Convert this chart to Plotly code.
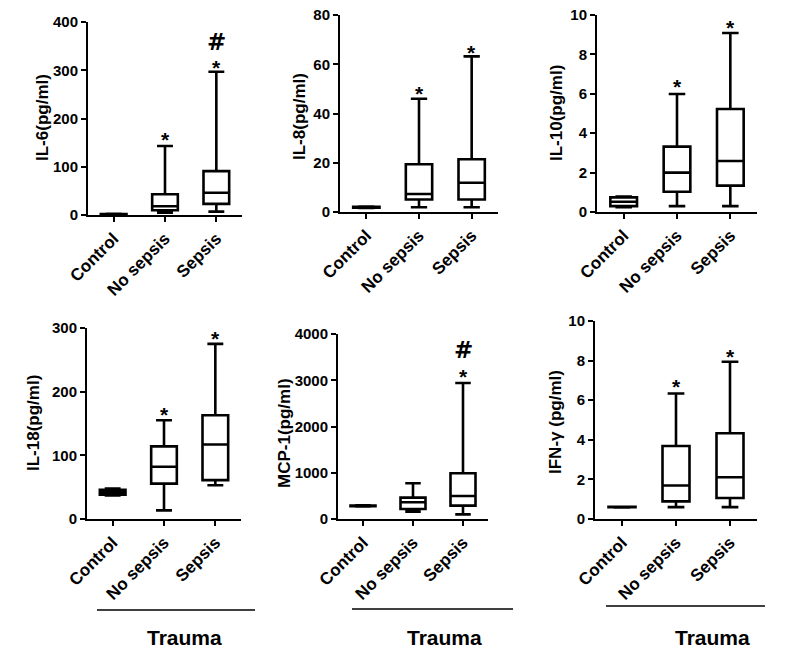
import plotly.graph_objects as go

W, H = 800, 651
CATEGORIES = ["Control", "No sepsis", "Sepsis"]

# ---- data (low whisker, Q1, median, Q3, high whisker) per group ----
IL6_LOW = [0.8, 5, 7];      IL6_Q1 = [1, 10, 23];     IL6_MED = [1.5, 18, 46];    IL6_Q3 = [2, 43, 91];      IL6_HIGH = [2.5, 143, 297]
IL8_LOW = [1.6, 1.9, 1.9];  IL8_Q1 = [1.7, 5.1, 5.1]; IL8_MED = [1.9, 7.3, 11.9]; IL8_Q3 = [2.1, 19.4, 21.4]; IL8_HIGH = [2.2, 46, 63.2]
IL10_LOW = [0.25, 0.3, 0.3]; IL10_Q1 = [0.3, 1.03, 1.34]; IL10_MED = [0.52, 2.0, 2.59]; IL10_Q3 = [0.74, 3.32, 5.23]; IL10_HIGH = [0.78, 5.99, 9.09]
IL18_LOW = [37, 13.6, 53];  IL18_Q1 = [38, 55.5, 61]; IL18_MED = [42, 82, 117];   IL18_Q3 = [46, 114, 163];  IL18_HIGH = [48, 155, 275]
MCP1_LOW = [270, 159, 101]; MCP1_Q1 = [275, 217, 289]; MCP1_MED = [282, 361, 498]; MCP1_Q3 = [290, 462, 989]; MCP1_HIGH = [295, 772, 2939]
IFNG_LOW = [0.58, 0.6, 0.6]; IFNG_Q1 = [0.59, 0.89, 1.06]; IFNG_MED = [0.6, 1.69, 2.11]; IFNG_Q3 = [0.61, 3.69, 4.33]; IFNG_HIGH = [0.62, 6.34, 7.94]

# significance markers: (panel index, group index, y value, symbol)
MARKS = [
    (0, 1, 166, "*"), (0, 2, 316, "*"), (0, 2, 358, "#"),
    (1, 1, 50, "*"), (1, 2, 67, "*"),
    (2, 1, 6.6, "*"), (2, 2, 9.6, "*"),
    (3, 1, 172, "*"), (3, 2, 292, "*"),
    (4, 2, 3190, "*"), (4, 2, 3660, "#"),
    (5, 1, 6.95, "*"), (5, 2, 8.47, "*"),
]

TITLES = ["IL-6(pg/ml)", "IL-8(pg/ml)", "IL-10(pg/ml)", "IL-18(pg/ml)", "MCP-1(pg/ml)", "IFN-γ (pg/ml)"]
YMAX = [400, 80, 10, 300, 4000, 10]
YDTICK = [100, 20, 2, 100, 1000, 2]

DATA = [
    (IL6_LOW, IL6_Q1, IL6_MED, IL6_Q3, IL6_HIGH),
    (IL8_LOW, IL8_Q1, IL8_MED, IL8_Q3, IL8_HIGH),
    (IL10_LOW, IL10_Q1, IL10_MED, IL10_Q3, IL10_HIGH),
    (IL18_LOW, IL18_Q1, IL18_MED, IL18_Q3, IL18_HIGH),
    (MCP1_LOW, MCP1_Q1, MCP1_MED, MCP1_Q3, MCP1_HIGH),
    (IFNG_LOW, IFNG_Q1, IFNG_MED, IFNG_Q3, IFNG_HIGH),
]

# ---- layout geometry (pixels) ----
PANELS = [  # x0, x1, ytop, ybottom
    (88, 242, 22, 215),
    (340, 498, 15, 212),
    (597, 757, 15, 212),
    (87, 241, 328, 519),
    (338, 488, 334, 519),
    (595, 757, 321, 519),
]
TITLE_POS = [(42, 118), (299, 117), (557, 113), (33, 423), (284, 433), (555, 422)]
TRAUMA = [  # line x0, x1, y ; text x, y
    (97, 255, 610, 184, 637),
    (352, 513, 609, 444, 637),
    (606, 765, 606, 712, 637),
]

FONT = "Arial, Liberation Sans, sans-serif"
fig = go.Figure()
layout = dict(width=W, height=H, margin=dict(l=0, r=0, t=0, b=0, autoexpand=False),
              paper_bgcolor="white", plot_bgcolor="white", showlegend=False,
              font=dict(family=FONT, color="black"))
annotations = []
shapes = []

for i, (low, q1, med, q3, high) in enumerate(DATA):
    n = i + 1
    xa = "x" if n == 1 else f"x{n}"
    ya = "y" if n == 1 else f"y{n}"
    fig.add_trace(go.Box(
        x=[0, 1, 2], lowerfence=low, q1=q1, median=med, q3=q3, upperfence=high,
        width=0.5, whiskerwidth=0.62, boxpoints=False,
        line=dict(color="black", width=2.6), fillcolor="white",
        xaxis=xa, yaxis=ya, hoverinfo="skip"))
    x0, x1, yt, yb = PANELS[i]
    layout[f"xaxis{n if n > 1 else ''}"] = dict(
        domain=[x0 / W, x1 / W], anchor=ya, range=[-0.5, 2.5], automargin=False,
        tickmode="array", tickvals=[0, 1, 2], ticktext=CATEGORIES,
        tickangle=-45, ticks="outside", ticklen=5, tickwidth=2, tickcolor="black",
        showline=True, linecolor="black", linewidth=2, showgrid=False, zeroline=False,
        tickfont=dict(family=FONT, size=17, color="black", weight="bold"))
    layout[f"yaxis{n if n > 1 else ''}"] = dict(
        domain=[1 - yb / H, 1 - yt / H], anchor=xa, range=[0, YMAX[i]], automargin=False,
        dtick=YDTICK[i], tick0=0, ticks="outside", ticklen=5, tickwidth=2, tickcolor="black",
        showline=True, linecolor="black", linewidth=2, showgrid=False, zeroline=False,
        tickfont=dict(family=FONT, size=15, color="black", weight="bold"))
    tx, ty = TITLE_POS[i]
    annotations.append(dict(x=tx / W, y=1 - ty / H, xref="paper", yref="paper",
                            text=TITLES[i], textangle=-90, showarrow=False,
                            xanchor="center", yanchor="middle",
                            font=dict(family=FONT, size=17, color="black", weight="bold")))

for (p, g, yv, sym) in MARKS:
    n = p + 1
    annotations.append(dict(x=g, y=yv, xref="x" if n == 1 else f"x{n}",
                            yref="y" if n == 1 else f"y{n}",
                            text=sym, showarrow=False, xanchor="center", yanchor="middle",
                            yshift=-5 if sym == "*" else 0,
                            font=dict(family=FONT if sym == "*" else "DejaVu Sans",
                                      size=21 if sym == "*" else 23,
                                      color="black", weight="bold")))

for (lx0, lx1, ly, tx, ty) in TRAUMA:
    shapes.append(dict(type="line", xref="paper", yref="paper",
                       x0=lx0 / W, x1=lx1 / W, y0=1 - ly / H, y1=1 - ly / H,
                       line=dict(color="black", width=1.5)))
    annotations.append(dict(x=tx / W, y=1 - ty / H, xref="paper", yref="paper",
                            text="Trauma", showarrow=False, xanchor="center", yanchor="middle",
                            font=dict(family=FONT, size=21, color="black", weight="bold")))

layout["annotations"] = annotations
layout["shapes"] = shapes
fig.update_layout(**layout)
fig.write_html("out.html", config={"displayModeBar": False},
               post_script="document.body.style.margin='0';document.body.style.overflow='hidden';")
